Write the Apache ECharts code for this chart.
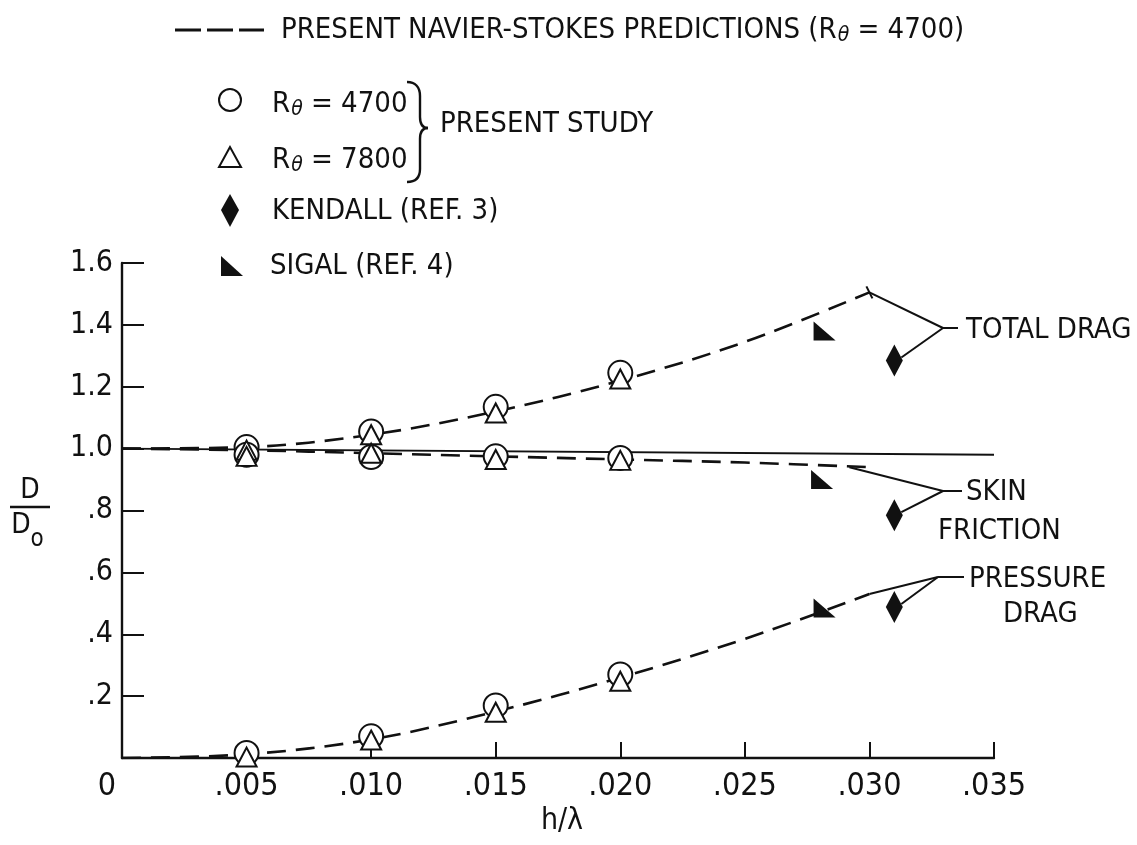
<!DOCTYPE html>
<html><head><meta charset="utf-8">
<script src="https://cdn.jsdelivr.net/npm/echarts@6/dist/echarts.min.js"></script>
<style>html,body{margin:0;padding:0;background:#fff}#c{width:1137px;height:845px}</style>
</head><body><div id="c"></div>
<script>
// ---------- data ----------
const xTickValues = [0, 0.005, 0.010, 0.015, 0.020, 0.025, 0.030, 0.035];
const yTickLabels = ['', '.2', '.4', '.6', '.8', '1.0', '1.2', '1.4', '1.6'];

// Navier-Stokes predictions (R_theta = 4700), dashed curves
const nsTotal    = [[0,1.0],[0.005,1.005],[0.010,1.045],[0.015,1.12],[0.020,1.22],[0.025,1.345],[0.030,1.505]];
const nsSkin     = [[0,1.0],[0.005,0.995],[0.010,0.985],[0.015,0.975],[0.020,0.965],[0.025,0.955],[0.030,0.94]];
const nsPressure = [[0,0],[0.005,0.012],[0.010,0.06],[0.015,0.15],[0.020,0.26],[0.025,0.385],[0.030,0.53]];
// solid reference line
const solidRef   = [[0,1.0],[0.035,0.98]];

// Present study, R_theta = 4700 (circles)
const c4700Total    = [[0.005,1.005],[0.010,1.055],[0.015,1.135],[0.020,1.245]];
const c4700Skin     = [[0.005,0.98],[0.010,0.973],[0.015,0.975],[0.020,0.97]];
const c4700Pressure = [[0.005,0.016],[0.010,0.07],[0.015,0.17],[0.020,0.27]];
// Present study, R_theta = 7800 (triangles)
const t7800Total    = [[0.005,0.995],[0.010,1.045],[0.015,1.115],[0.020,1.225]];
const t7800Skin     = [[0.005,0.975],[0.010,0.985],[0.015,0.965],[0.020,0.962]];
const t7800Pressure = [[0.005,0.003],[0.010,0.058],[0.015,0.148],[0.020,0.248]];
// Kendall (ref. 3)
const kendall = [[0.031,1.285],[0.031,0.785],[0.031,0.488]];
// Sigal (ref. 4)
const sigal   = [[0.0282,1.38],[0.0281,0.90],[0.0282,0.485]];

// ---------- styling ----------
const FONT = "'Liberation Sans Narrow','DejaVu Sans Condensed','Liberation Sans',sans-serif";
const FS = 29;
const INK = '#111';
const SIGAL_PATH = 'path://M0,0 L0,10 L11,10 Z';
const dashed = {color: INK, width: 2.6, type: [19, 10]};

const chart = echarts.init(document.getElementById('c'), null, {renderer: 'canvas'});

function lineSeries(data, style, z) {
  return {type: 'line', data, smooth: 0.35, symbol: 'none', lineStyle: style, z: z || 2, silent: true, animation: false};
}
function scatterSeries(data, symbol, size, fill, z) {
  return {type: 'scatter', data, symbol, symbolSize: size, z: z || 5, silent: true, animation: false,
    itemStyle: {color: fill, borderColor: INK, borderWidth: fill === '#fff' ? 2 : 0, opacity: 1}};
}

chart.setOption({
  backgroundColor: '#fff',
  animation: false,
  grid: {left: 122, right: 143, top: 263, bottom: 87, containLabel: false, outerBoundsMode: 'none'},
  xAxis: {
    type: 'value', min: 0, max: 0.035, interval: 0.005,
    axisLine: {show: true, lineStyle: {color: INK, width: 2.4}},
    axisTick: {show: true, inside: true, length: 16, lineStyle: {color: INK, width: 2}},
    splitLine: {show: false},
    axisLabel: {
      margin: 13, color: INK, fontFamily: FONT, fontSize: 32,
      formatter: v => v === 0 ? '{z|0}' : '.' + v.toFixed(3).split('.')[1],
      rich: {z: {padding: [0, 30, 0, 0], fontFamily: FONT, fontSize: 32, color: INK}}
    }
  },
  yAxis: {
    type: 'value', min: 0, max: 1.6, interval: 0.2,
    axisLine: {show: true, lineStyle: {color: INK, width: 2.4}},
    axisTick: {show: true, inside: true, length: 22, lineStyle: {color: INK, width: 2}},
    splitLine: {show: false},
    axisLabel: {
      margin: 9, color: INK, fontFamily: FONT, fontSize: 30,
      formatter: v => yTickLabels[Math.round(v / 0.2)]
    }
  },
  series: [
    lineSeries(solidRef, {color: INK, width: 2}, 1),
    lineSeries(nsTotal, dashed),
    lineSeries(nsSkin, dashed),
    lineSeries(nsPressure, dashed),
    scatterSeries(c4700Total, 'circle', 24, '#fff', 5),
    scatterSeries(c4700Skin, 'circle', 24, '#fff', 5),
    scatterSeries(c4700Pressure, 'circle', 24, '#fff', 5),
    scatterSeries(t7800Total, 'triangle', [20, 19], '#fff', 6),
    scatterSeries(t7800Skin, 'triangle', [20, 19], '#fff', 6),
    scatterSeries(t7800Pressure, 'triangle', [20, 19], '#fff', 6),
    scatterSeries(kendall, 'diamond', [17, 32], INK, 7),
    scatterSeries(sigal, SIGAL_PATH, [22, 19], INK, 7)
  ]
});

// ---------- annotations, legend, axis names ----------
const px = p => chart.convertToPixel({gridIndex: 0}, p);
const txt = (x, y, text, opts) => ({type: 'text', x, y, style: Object.assign({text, fontFamily: FONT, fontSize: FS, fill: INK, verticalAlign: 'middle'}, opts || {})});
const seg = (a, b, w) => ({type: 'line', shape: {x1: a[0], y1: a[1], x2: b[0], y2: b[1]}, style: {stroke: INK, lineWidth: w || 2}});
const bez = (x1, y1, c1x, c1y, c2x, c2y, x2, y2) => ({type: 'bezierCurve',
  shape: {x1, y1, cpx1: c1x, cpy1: c1y, cpx2: c2x, cpy2: c2y, x2, y2}, style: {stroke: INK, lineWidth: 2.4, fill: null}});
const SUB = {fontFamily: FONT, fontSize: 21, fill: INK, fontStyle: 'italic', padding: [12, 0, 0, 1]};

const totEnd = px(nsTotal[nsTotal.length - 1]);
const skinEnd = px(nsSkin[nsSkin.length - 1]);
const presEnd = px(nsPressure[nsPressure.length - 1]);
const kT = px(kendall[0]), kS = px(kendall[1]), kP = px(kendall[2]);

const vT = [943, 328], vS = [943, 491], vP = [938, 577];
const g = [
  // total drag leaders
  seg(totEnd, vT), seg([kT[0] + 7, kT[1] - 3], vT), seg(vT, [958, vT[1]]),
  seg([totEnd[0] - 3, totEnd[1] - 6], [totEnd[0] + 3, totEnd[1] + 6]),
  txt(966, vT[1] + 2, 'TOTAL DRAG', {letterSpacing: 1}),
  // skin friction leaders
  seg([skinEnd[0] - 20, skinEnd[1]], vS), seg([kS[0] + 7, kS[1] - 3], vS), seg(vS, [962, vS[1]]),
  txt(966, vS[1] + 1, 'SKIN', {letterSpacing: 4}),
  txt(938, vS[1] + 40, 'FRICTION', {letterSpacing: 3}),
  // pressure drag leaders
  seg(presEnd, vP), seg([kP[0] + 7, kP[1] - 3], vP), seg(vP, [964, vP[1]]),
  txt(969, vP[1] + 2, 'PRESSURE', {letterSpacing: 3}),
  txt(1003, vP[1] + 37, 'DRAG', {letterSpacing: 3}),

  // legend title
  {type: 'line', shape: {x1: 175, y1: 30, x2: 264, y2: 30}, style: {stroke: INK, lineWidth: 3, lineDash: [26, 6]}},
  {type: 'text', x: 281, y: 30, style: {
    text: 'PRESENT NAVIER-STOKES PREDICTIONS (R{sub|θ} = 4700)',
    fontFamily: FONT, fontSize: FS, fill: INK, verticalAlign: 'middle', rich: {sub: SUB}
  }},
  // legend symbols
  {type: 'circle', shape: {cx: 230, cy: 100, r: 11}, style: {fill: '#fff', stroke: INK, lineWidth: 2}},
  {type: 'polygon', shape: {points: [[230, 147], [219, 167], [241, 167]]}, style: {fill: '#fff', stroke: INK, lineWidth: 2}},
  {type: 'polygon', shape: {points: [[230, 194], [239, 210], [230, 227], [221, 210]]}, style: {fill: INK}},
  {type: 'polygon', shape: {points: [[221, 256], [221, 276], [243, 276]]}, style: {fill: INK}},
  // legend texts
  {type: 'text', x: 272, y: 104, style: {text: 'R{sub|θ} = 4700', fontFamily: FONT, fontSize: FS, fill: INK, verticalAlign: 'middle', rich: {sub: SUB}}},
  {type: 'text', x: 272, y: 160, style: {text: 'R{sub|θ} = 7800', fontFamily: FONT, fontSize: FS, fill: INK, verticalAlign: 'middle', rich: {sub: SUB}}},
  txt(272, 211, 'KENDALL (REF. 3)'),
  txt(270, 266, 'SIGAL (REF. 4)', {letterSpacing: 2}),
  // brace
  bez(407, 82, 415, 82, 420, 87, 420, 96),
  seg([420, 96], [420, 117], 2.4),
  bez(420, 117, 420, 124, 423, 128, 428, 128),
  bez(428, 128, 423, 128, 420, 132, 420, 139),
  seg([420, 139], [420, 169], 2.4),
  bez(420, 169, 420, 178, 415, 182, 407, 182),
  txt(440, 124, 'PRESENT STUDY'),

  // y-axis name D / D_o
  txt(30, 491, 'D', {align: 'center', fontSize: 28}),
  seg([10, 507], [50, 507], 2.4),
  txt(21, 526, 'D', {align: 'center', fontSize: 28}),
  txt(37, 540, 'o', {align: 'center', fontSize: 24}),
  // x-axis name
  txt(562, 821, 'h/λ', {align: 'center', fontSize: 30})
];
chart.setOption({graphic: {elements: g.map(e => Object.assign({silent: true}, e))}});
</script></body></html>
